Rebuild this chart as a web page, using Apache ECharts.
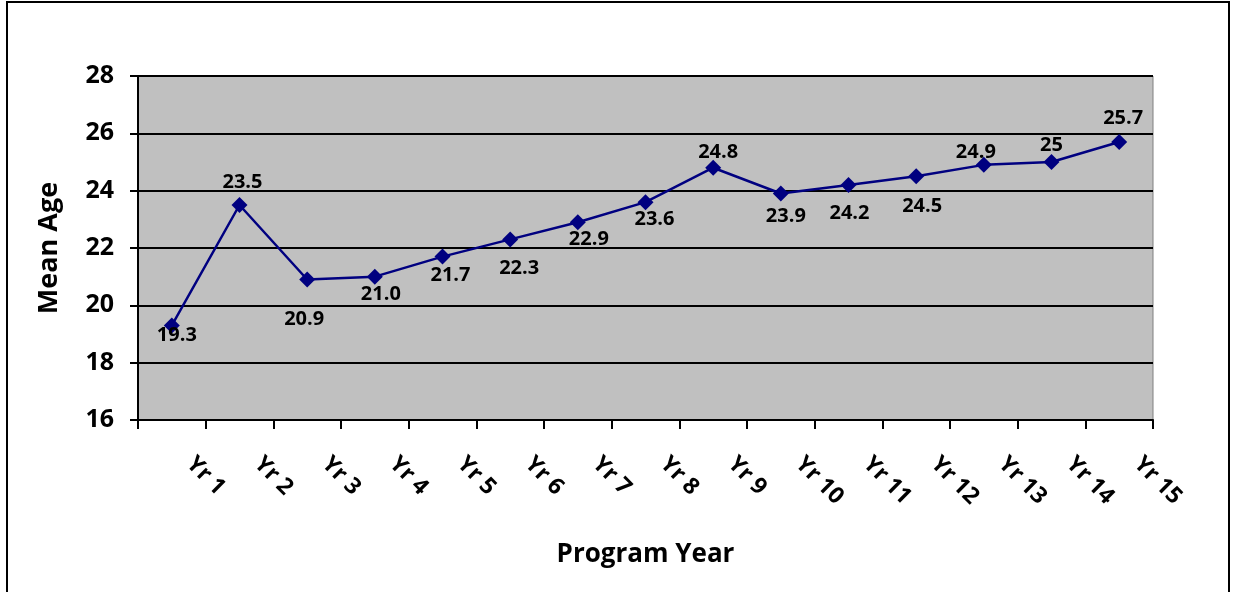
<!DOCTYPE html>
<html>
<head>
<meta charset="utf-8">
<script src="https://cdn.jsdelivr.net/npm/echarts@6/dist/echarts.min.js"></script>
<style>
  html, body { margin: 0; padding: 0; background: #fff; }
</style>
</head>
<body>
<div id="container" style="width:1233px; height:592px"></div>
<script>
// program years on the x axis
var years = ["Yr 1", "Yr 2", "Yr 3", "Yr 4", "Yr 5", "Yr 6", "Yr 7", "Yr 8",
  "Yr 9", "Yr 10", "Yr 11", "Yr 12", "Yr 13", "Yr 14", "Yr 15"];
// mean age per year
var meanAge = [19.3, 23.5, 20.9, 21.0, 21.7, 22.3, 22.9, 23.6, 24.8, 23.9, 24.2, 24.5, 24.9, 25, 25.7];
// label text as printed on the chart
var ageText = ["19.3", "23.5", "20.9", "21.0", "21.7", "22.3", "22.9", "23.6",
  "24.8", "23.9", "24.2", "24.5", "24.9", "25", "25.7"];
var yTicks = { min: 16, max: 28, step: 2 };

// where each data label sits relative to its point (px)
var labelOffsets = [[5, 10], [3, -23], [-3, 40], [6, 18], [8, 19], [9, 29], [11, 17], [9, 17],
  [5, -15], [5, 23], [1, 28], [6, 30], [-8, -13], [0, -17], [4, -24]];

var font = "'Open Sans', 'DejaVu Sans', sans-serif";

var points = meanAge.map(function (v, i) {
  return {
    value: v,
    label: { offset: labelOffsets[i], formatter: ageText[i] }
  };
});

var option = {
  backgroundColor: "#fff",
  animation: false,
  graphic: [{
    type: "rect",
    shape: { x: 7, y: 2, width: 1222, height: 620 },
    style: { fill: "none", stroke: "#000", lineWidth: 2 },
    z: 0
  }],
  grid: {
    left: 138,
    top: 76,
    width: 1015,
    height: 344,
    show: true,
    backgroundColor: "#C0C0C0",
    borderColor: "#808080",
    borderWidth: 1
  },
  xAxis: {
    type: "category",
    data: years,
    boundaryGap: true,
    name: "Program Year",
    nameLocation: "middle",
    nameGap: 122,
    nameTextStyle: { fontFamily: font, fontWeight: "bold", fontSize: 26, color: "#000" },
    axisLine: { lineStyle: { color: "#000", width: 2 } },
    axisTick: { show: true, length: 9, lineStyle: { color: "#000", width: 2 } },
    axisLabel: {
      rotate: -45,
      margin: 22,
      padding: [0, 0, 0, 26],
      fontFamily: font,
      fontWeight: "bold",
      fontSize: 23,
      color: "#000"
    },
    splitLine: { show: false }
  },
  yAxis: {
    type: "value",
    min: yTicks.min,
    max: yTicks.max,
    interval: yTicks.step,
    name: "Mean Age",
    nameLocation: "middle",
    nameGap: 75,
    nameTextStyle: { fontFamily: font, fontWeight: "bold", fontSize: 27, color: "#000" },
    axisLine: { show: true, lineStyle: { color: "#000", width: 2 } },
    axisTick: { show: true, length: 8, lineStyle: { color: "#000", width: 2 } },
    axisLabel: {
      margin: 24,
      fontFamily: font,
      fontWeight: "bold",
      fontSize: 25,
      color: "#000"
    },
    splitLine: { show: true, lineStyle: { color: "#000", width: 2 } }
  },
  series: [{
    type: "line",
    data: points,
    symbol: "diamond",
    symbolSize: 16,
    itemStyle: { color: "#000080" },
    lineStyle: { color: "#000080", width: 2.5 },
    label: {
      show: true,
      position: "inside",
      fontFamily: font,
      fontWeight: "bold",
      fontSize: 20,
      color: "#000"
    },
    z: 3
  }]
};

var dom = document.getElementById("container");
var myChart = echarts.init(dom);
myChart.setOption(option, true);
</script>
</body>
</html>
